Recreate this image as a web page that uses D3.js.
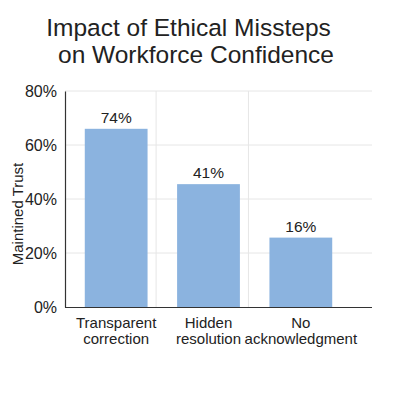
<!DOCTYPE html>
<html><head><meta charset="utf-8">
<script src="https://cdn.jsdelivr.net/npm/d3@7"></script>
<style>body{margin:0;background:#fff}svg{display:block}text{font-family:"Liberation Sans",Arial,sans-serif;fill:#222}</style>
</head><body>
<svg id="c" width="400" height="400"></svg>
<script>
const categories = [["Transparent","correction"],["Hidden","resolution"],["No","acknowledgment"]];
const barValues = [66, 45.5, 25.7];
const valueLabels = ["74%","41%","16%"];
const yTicks = [0,20,40,60,80];
const titleLines = ["Impact of Ethical Missteps","on Workforce Confidence"];
const yTitle = "Maintined Trust";

(function(){
const svg = d3.select("#c");
const pl = 65, pr = 372, pt = 91, pb = 307;
const keys = categories.map(c => c.join(" "));
const x = d3.scaleBand().domain(keys).range([70, 347]).paddingInner(0.32).paddingOuter(0.16);
const y = d3.scaleLinear().domain([0, 80]).range([pb, pt]);

// grid
svg.append("g").selectAll("line").data(yTicks.filter(t=>t>0)).join("line")
  .attr("x1", pl).attr("x2", pr).attr("y1", d=>y(d)).attr("y2", d=>y(d))
  .attr("stroke", "#e6e6e6").attr("stroke-width", 1);
svg.append("g").selectAll("line").data(keys.slice(1)).join("line")
  .attr("x1", d=>x(d)-21).attr("x2", d=>x(d)-21).attr("y1", pt).attr("y2", pb)
  .attr("stroke", "#e6e6e6").attr("stroke-width", 1);

// bars
svg.append("g").selectAll("rect").data(keys).join("rect")
  .attr("x", d=>x(d)).attr("width", x.bandwidth())
  .attr("y", (d,i)=>y(barValues[i])).attr("height", (d,i)=>pb - y(barValues[i]))
  .attr("fill", "#8bb3df");

// value labels
svg.append("g").selectAll("text").data(keys).join("text")
  .attr("x", d=>x(d)+x.bandwidth()/2).attr("y", (d,i)=>y(barValues[i])-6)
  .attr("text-anchor","middle").attr("font-size",15.5).text((d,i)=>valueLabels[i]);

// axes
const ya = svg.append("g").attr("transform",`translate(${pl},0)`)
  .call(d3.axisLeft(y).tickValues(yTicks).tickFormat(d=>d+"%").tickSize(0).tickPadding(8));
ya.select(".domain").attr("stroke","#333").attr("stroke-width",1.2);
ya.selectAll("text").attr("font-size",16).attr("fill","#222").style("font-family",'"Liberation Sans",Arial,sans-serif');

const xa = svg.append("g").attr("transform",`translate(0,${pb})`)
  .call(d3.axisBottom(x).tickSize(0).tickFormat(""));
xa.select(".domain").attr("d", `M${pl},0.5H${pr}`).attr("stroke","#333").attr("stroke-width",1.2);
xa.selectAll(".tick").each(function(d,i){
  const t = d3.select(this).append("text").attr("text-anchor","middle").attr("font-size",15).attr("fill","#222")
    .style("font-family",'"Liberation Sans",Arial,sans-serif');
  categories[i].forEach((line,j)=>t.append("tspan").attr("x",0).attr("y",21+j*15.5).text(line));
});

// y title
svg.append("text").attr("transform","translate(23,214) rotate(-90)")
  .attr("text-anchor","middle").attr("font-size",15).text(yTitle);

// title
svg.append("g").selectAll("text").data(titleLines).join("text")
  .attr("x",(d,i)=> i===0 ? 188.5 : 196).attr("y",(d,i)=>36+i*27)
  .attr("text-anchor","middle").attr("font-size",24.5).text(d=>d);
})();
</script>
</body></html>
